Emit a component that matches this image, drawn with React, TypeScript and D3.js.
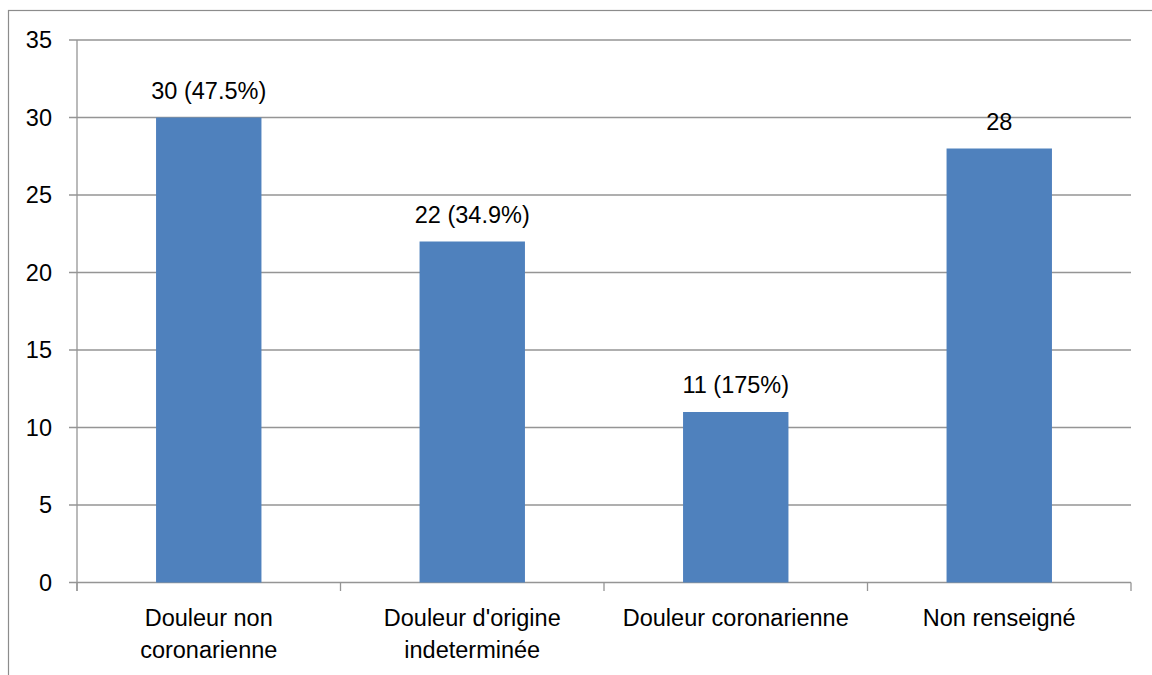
import React from "react";
import * as d3 from "d3";

const categories: string[][] = [
  ["Douleur non", "coronarienne"],
  ["Douleur d'origine", "indeterminée"],
  ["Douleur coronarienne"],
  ["Non renseigné"],
];
const values: number[] = [30, 22, 11, 28];
const barLabels: string[] = ["30 (47.5%)", "22 (34.9%)", "11 (175%)", "28"];
const yTicks: number[] = [0, 5, 10, 15, 20, 25, 30, 35];

const W = 1152;
const H = 675;
const left = 77;
const right = 1131;
const top = 40;
const bottom = 582.5;
const font = "'Liberation Sans', Arial, sans-serif";
const fs = 23.5;

export default function App() {
  const x = d3
    .scaleBand<number>()
    .domain(values.map((_, i) => i))
    .range([left, right])
    .padding(0);
  const y = d3.scaleLinear().domain([0, 35]).range([bottom, top]);
  const step = x.step();
  const bw = step * 0.4;
  const grid = "#959595";

  return (
    <svg
      width={W}
      height={H}
      style={{ position: "absolute", left: 0, top: 0, background: "#fff" }}
    >
      <rect x={8.5} y={10.5} width={W + 10} height={H + 10} fill="#fff" stroke="#8c8c8c" strokeWidth={1.2} />
      {yTicks.map((t) => (
        <g key={t}>
          <line x1={69} x2={right} y1={y(t)} y2={y(t)} stroke={grid} strokeWidth={1.3} />
          <text
            x={52}
            y={y(t)}
            textAnchor="end"
            dominantBaseline="central"
            fontFamily={font}
            fontSize={fs}
            fill="#000"
          >
            {t}
          </text>
        </g>
      ))}
      <line x1={left} x2={left} y1={top} y2={bottom + 8.5} stroke={grid} strokeWidth={1.3} />
      {d3.range(values.length + 1).map((i) => (
        <line
          key={i}
          x1={left + i * step}
          x2={left + i * step}
          y1={bottom}
          y2={bottom + 8.5}
          stroke={grid}
          strokeWidth={1.3}
        />
      ))}
      {values.map((v, i) => {
        const cx = (x(i) as number) + step / 2;
        return (
          <g key={i}>
            <rect x={cx - bw / 2} y={y(v)} width={bw} height={bottom - y(v)} fill="#4F81BD" />
            <text
              x={cx}
              y={y(v) - 19}
              textAnchor="middle"
              fontFamily={font}
              fontSize={fs}
              fill="#000"
            >
              {barLabels[i]}
            </text>
            {categories[i].map((line, j) => (
              <text
                key={j}
                x={cx}
                y={625.5 + j * 32.5}
                textAnchor="middle"
                fontFamily={font}
                fontSize={fs}
                fill="#000"
              >
                {line}
              </text>
            ))}
          </g>
        );
      })}
    </svg>
  );
}
